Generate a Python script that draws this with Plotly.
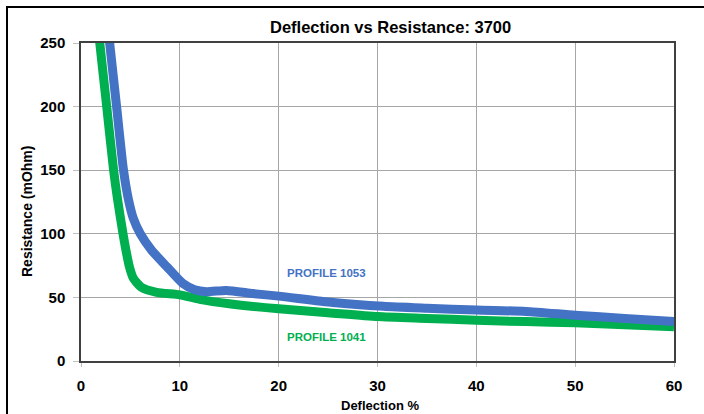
import plotly.graph_objects as go

# Data
profile_1053_x = [2.5, 2.9, 3.6, 4.3, 4.8, 5.3, 6.0, 7.15, 8.7, 10.3, 11.5, 12.7, 14.7, 17.4, 20.0, 25.5, 30.6, 35.0, 40.0, 45.0, 50.0, 55.0, 60.0]
profile_1053_y = [280, 250, 200, 150, 127, 112, 100, 87, 74, 61, 56, 54.5, 55.5, 53, 51, 46, 43, 41.5, 40, 39, 36, 33.5, 31]

profile_1041_x = [1.5, 1.9, 2.6, 3.3, 3.7, 4.25, 4.55, 4.9, 5.3, 6.1, 7.65, 10.0, 12.0, 15.0, 20.0, 25.0, 30.0, 35.0, 40.0, 45.0, 50.0, 55.0, 60.0]
profile_1041_y = [280, 250, 200, 150, 127, 100, 87, 74, 65, 58, 54, 52, 48.5, 45, 41, 38, 35, 33.5, 32, 31, 30, 28.5, 27]

x_ticks = [0, 10, 20, 30, 40, 50, 60]
y_ticks = [0, 50, 100, 150, 200, 250]

BLUE = "#4472C4"
GREEN = "#00B050"
FONT = "Liberation Sans, Arial, sans-serif"

fig = go.Figure()
fig.add_trace(go.Scatter(x=profile_1041_x, y=profile_1041_y, mode="lines",
                         line=dict(color=GREEN, width=9, shape="spline", smoothing=0.6),
                         name="PROFILE 1041"))
fig.add_trace(go.Scatter(x=profile_1053_x, y=profile_1053_y, mode="lines",
                         line=dict(color=BLUE, width=9, shape="spline", smoothing=0.6),
                         name="PROFILE 1053"))

L, R, T, B = 81, 30, 43, 53
W, H = 704, 414
pw, ph = W - L - R, H - T - B

def px_x(p):
    return (p - L) / pw

def px_y(p):
    return 1 - (p - T) / ph

fig.update_layout(
    width=W, height=H,
    margin=dict(l=L, r=R, t=T, b=B, autoexpand=False),
    paper_bgcolor="white", plot_bgcolor="white",
    showlegend=False,
    font=dict(family=FONT, color="black"),
    xaxis=dict(range=[0, 60], tickvals=x_ticks, showgrid=True, gridcolor="#A6A6A6", gridwidth=1,
               showline=True, linecolor="#404040", linewidth=1.5, mirror=True,
               ticks="outside", ticklen=4, tickcolor="#BFBFBF",
               tickfont=dict(family=FONT, size=15, color="black", weight="bold"),
               ticklabelstandoff=6, zeroline=False, automargin=False),
    yaxis=dict(range=[0, 250], tickvals=y_ticks, showgrid=True, gridcolor="#A6A6A6", gridwidth=1,
               showline=True, linecolor="#404040", linewidth=1.5, mirror=True,
               ticks="outside", ticklen=6, tickcolor="#BFBFBF",
               tickfont=dict(family=FONT, size=15, color="black", weight="bold"),
               ticklabelstandoff=5, zeroline=False, automargin=False),
)

fig.add_annotation(x=px_x(390), y=px_y(27), xref="paper", yref="paper",
                   text="<b>Deflection vs Resistance: 3700</b>", showarrow=False,
                   font=dict(family=FONT, size=16.5, color="black"), xanchor="center", yanchor="middle")
fig.add_annotation(x=px_x(380), y=px_y(405), xref="paper", yref="paper",
                   text="<b>Deflection %</b>", showarrow=False,
                   font=dict(family=FONT, size=13, color="black"), xanchor="center", yanchor="middle")
fig.add_annotation(x=px_x(27), y=px_y(212), xref="paper", yref="paper",
                   text="<b>Resistance (mOhm)</b>", showarrow=False, textangle=-90,
                   font=dict(family=FONT, size=14, color="black"), xanchor="center", yanchor="middle")
fig.add_annotation(x=px_x(326), y=px_y(273), xref="paper", yref="paper",
                   text="<b>PROFILE 1053</b>", showarrow=False,
                   font=dict(family=FONT, size=11.5, color=BLUE),
                   xanchor="center", yanchor="middle")
fig.add_annotation(x=px_x(326), y=px_y(337), xref="paper", yref="paper",
                   text="<b>PROFILE 1041</b>", showarrow=False,
                   font=dict(family=FONT, size=11.5, color=GREEN),
                   xanchor="center", yanchor="middle")

# outer frame (left and top edges visible in reference)
fig.add_shape(type="line", xref="paper", yref="paper",
              x0=px_x(7), x1=px_x(7), y0=px_y(6), y1=px_y(430),
              line=dict(color="black", width=2))
fig.add_shape(type="line", xref="paper", yref="paper",
              x0=px_x(6), x1=px_x(720), y0=px_y(7), y1=px_y(7),
              line=dict(color="black", width=2))

fig.write_html("out.html", config={"displayModeBar": False},
               post_script="document.body.style.margin='0';")
